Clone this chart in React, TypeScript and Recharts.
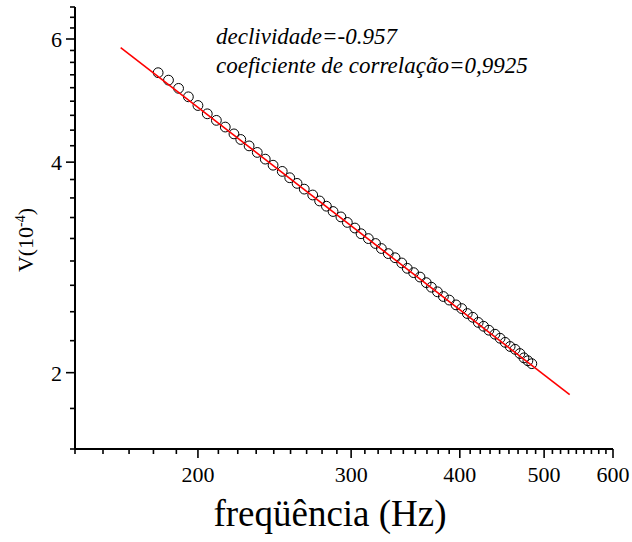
import { ScatterChart, Scatter, XAxis, YAxis } from "recharts";

const SERIF = '"Liberation Serif", "Times New Roman", serif';

// measured points (Hz, V x 10^-4)
const FREQ = [
  180, 185, 190, 195, 200, 205, 210, 215, 220, 224,
  229, 234, 239, 244, 250, 255, 260, 265, 271, 276,
  281, 286, 292, 297, 303, 308, 314, 320, 325, 331,
  337, 343, 348, 354, 360, 366, 371, 377, 383, 389,
  396, 402, 408, 414, 420, 426, 432, 439, 445, 451,
  457, 463, 469, 474, 479, 484,
];
const VOLT = [
  5.37, 5.24, 5.1, 4.96, 4.82, 4.69, 4.59, 4.49, 4.39, 4.31,
  4.22, 4.13, 4.04, 3.96, 3.88, 3.8, 3.73, 3.66, 3.59, 3.52,
  3.46, 3.4, 3.34, 3.28, 3.22, 3.16, 3.11, 3.06, 3.01, 2.96,
  2.92, 2.87, 2.82, 2.78, 2.74, 2.69, 2.65, 2.61, 2.57, 2.54,
  2.5, 2.47, 2.43, 2.4, 2.36, 2.33, 2.3, 2.27, 2.24, 2.21,
  2.18, 2.16, 2.13, 2.1, 2.08, 2.06,
];

// linear fit ends (log-log)
const FIT_FREQ = [163, 535];
const FIT_VOLT = [5.83, 1.86];

const X_MAJOR = [200, 300, 400, 500, 600];
const Y_MAJOR = [2, 4, 6];
const SLOPE_TEXT = "declividade=-0.957";
const CORR_TEXT = "coeficiente de correlação=0,9925";

const points = FREQ.map((f, i) => ({ f, v: VOLT[i] }));
const fit = FIT_FREQ.map((f, i) => ({ f, v: FIT_VOLT[i] }));

// Origin style: 8 minor ticks between majors
const X_TICKS: number[] = [];
for (let k = -5; k <= 36; k++) X_TICKS.push(200 + (k * 100) / 9);
const Y_TICKS: number[] = [];
for (let k = -2; k <= 21; k++) Y_TICKS.push(2 + (k * 2) / 9);

const findMajor = (v: number, majors: number[]) =>
  majors.find((m) => Math.abs(m - v) < 1e-6);

const XTick = ({ x, y, payload }: any) => {
  const major = findMajor(payload.value, X_MAJOR);
  return (
    <g>
      <line x1={x} x2={x} y1={y} y2={y + (major !== undefined ? 9 : 5)} stroke="#000" strokeWidth={1.6} />
      {major !== undefined && (
        <text x={x} y={y + 33} textAnchor="middle" fontSize={22} fontFamily={SERIF} fill="#000">
          {major}
        </text>
      )}
    </g>
  );
};

const YTick = ({ x, y, payload }: any) => {
  const major = findMajor(payload.value, Y_MAJOR);
  return (
    <g>
      <line x1={x - (major !== undefined ? 9 : 5)} x2={x} y1={y} y2={y} stroke="#000" strokeWidth={1.6} />
      {major !== undefined && (
        <text x={x - 13} y={y + 8} textAnchor="end" fontSize={22} fontFamily={SERIF} fill="#000">
          {major}
        </text>
      )}
    </g>
  );
};

const Circle = ({ cx, cy }: any) => (
  <circle cx={cx} cy={cy} r={4.9} fill="none" stroke="#000" strokeWidth={1} />
);

const NoDot = () => <g />;

export default function App() {
  return (
    <div style={{ position: "absolute", left: 0, top: 0, width: 632, height: 542, background: "#fff" }}>
      <ScatterChart width={632} height={542} margin={{ top: 7, right: 19, bottom: 33, left: 15 }}>
        <XAxis
          dataKey="f"
          type="number"
          scale="log"
          domain={[X_TICKS[0], 600]}
          allowDataOverflow
          ticks={X_TICKS}
          interval={0}
          tick={<XTick />}
          tickLine={false}
          tickSize={0}
          tickMargin={0}
          height={60}
          axisLine={{ stroke: "#000", strokeWidth: 2 }}
          label={{
            content: () => (
              <text x={330} y={526} textAnchor="middle" fontSize={37} fontFamily={SERIF} fill="#000">
                freqüência (Hz)
              </text>
            ),
          }}
        />
        <YAxis
          dataKey="v"
          type="number"
          scale="log"
          domain={[Y_TICKS[0], Y_TICKS[Y_TICKS.length - 1]]}
          allowDataOverflow
          ticks={Y_TICKS}
          interval={0}
          tick={<YTick />}
          tickLine={false}
          tickSize={0}
          tickMargin={0}
          width={60}
          axisLine={{ stroke: "#000", strokeWidth: 2 }}
          label={{
            content: () => (
              <text transform="translate(33,240) rotate(-90)" textAnchor="middle" fontSize={22} fontFamily={SERIF} fill="#000">
                V(10
                <tspan dy={-8} fontSize={14}>-4</tspan>
                <tspan dy={8}>)</tspan>
              </text>
            ),
          }}
        />
        <Scatter data={points} shape={<Circle />} isAnimationActive={false} />
        <Scatter
          data={fit}
          shape={<NoDot />}
          line={{ stroke: "#ff0000", strokeWidth: 1.6 }}
          isAnimationActive={false}
        />
      </ScatterChart>
      <div
        style={{
          position: "absolute",
          left: 216,
          top: 22,
          fontFamily: SERIF,
          fontStyle: "italic",
          fontSize: 23,
          lineHeight: "29px",
          color: "#000",
          whiteSpace: "nowrap",
        }}
      >
        <div>{SLOPE_TEXT}</div>
        <div>{CORR_TEXT}</div>
      </div>
    </div>
  );
}
